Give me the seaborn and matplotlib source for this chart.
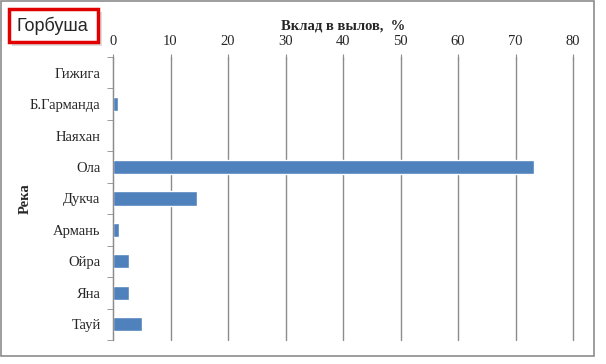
import pandas as pd
import matplotlib.pyplot as plt
import seaborn as sns
from matplotlib.patches import Rectangle
from matplotlib.ticker import FixedLocator

# river contributions to pink salmon catch, %
rivers = ['Гижига', 'Б.Гарманда', 'Наяхан', 'Ола', 'Дукча', 'Армань', 'Ойра', 'Яна', 'Тауй']
share = [0.0, 0.8, 0.0, 73.2, 14.6, 1.1, 2.7, 2.7, 5.1]
x_ticks = [0, 10, 20, 30, 40, 50, 60, 70, 80]

df = pd.DataFrame({'Река': rivers, 'Вклад': share})

sns.set_style('white')
plt.rcParams['font.family'] = ['Liberation Serif', 'DejaVu Serif']

W, H = 606, 364
fig = plt.figure(figsize=(W / 100, H / 100), dpi=100)
ax = fig.add_axes([113 / W, 1 - 340 / H, 460 / W, 283 / H])

sns.barplot(data=df, y='Река', x='Вклад', order=rivers, color='#4F81BD',
            saturation=1, width=0.45, ax=ax)

ax.set_xlim(0, 80)
ax.set_ylim(len(rivers) - 0.5, -0.5)
ax.xaxis.set_ticks_position('top')
ax.xaxis.set_label_position('top')
ax.set_xticks(x_ticks)
ax.set_xticklabels([str(t) for t in x_ticks], fontsize=10.5)
ax.grid(axis='x', color='#8c8c8c', linewidth=1)
ax.set_axisbelow(True)
for gl in ax.xaxis.get_gridlines():
    gl.set_clip_on(False)

ax.tick_params(axis='x', which='major', direction='inout', length=4.5, color='#8c8c8c', pad=4, top=True, bottom=False)
ax.tick_params(axis='y', which='major', length=0, labelsize=10.5, pad=9)
ax.yaxis.set_minor_locator(FixedLocator([i - 0.5 for i in range(len(rivers) + 1)]))
ax.tick_params(axis='y', which='minor', direction='out', length=4, color='#8c8c8c', left=True)

for s in ['right', 'bottom', 'top']:
    ax.spines[s].set_visible(False)
ax.spines['left'].set_color('#8c8c8c')

ax.set_xlabel('Вклад в вылов,  %', fontsize=10.5, fontweight='bold', labelpad=4)
ax.set_ylabel('Река', fontsize=10.5, fontweight='bold')
ax.yaxis.set_label_coords(-0.177, 0.5)

# outer frame
fig.patches.append(Rectangle((1 / W, 1 - 356 / H), 593 / W, 355 / H, transform=fig.transFigure,
                             fill=False, edgecolor='#8c8c8c', linewidth=1.2))
# title box with shadow
fig.patches.append(Rectangle((12 / W, 1 - 46 / H), 90 / W, 34 / H, transform=fig.transFigure,
                             facecolor='#d0d0d0', edgecolor='none', alpha=0.7))
fig.patches.append(Rectangle((9 / W, 1 - 42 / H), 89 / W, 33 / H, transform=fig.transFigure,
                             facecolor='white', edgecolor='#e00000', linewidth=2.5))
fig.text(17 / W, 1 - 26 / H, 'Горбуша', fontsize=13, family=['Liberation Sans', 'DejaVu Sans'],
         va='center', ha='left')

fig.savefig('out.png', dpi=100)
